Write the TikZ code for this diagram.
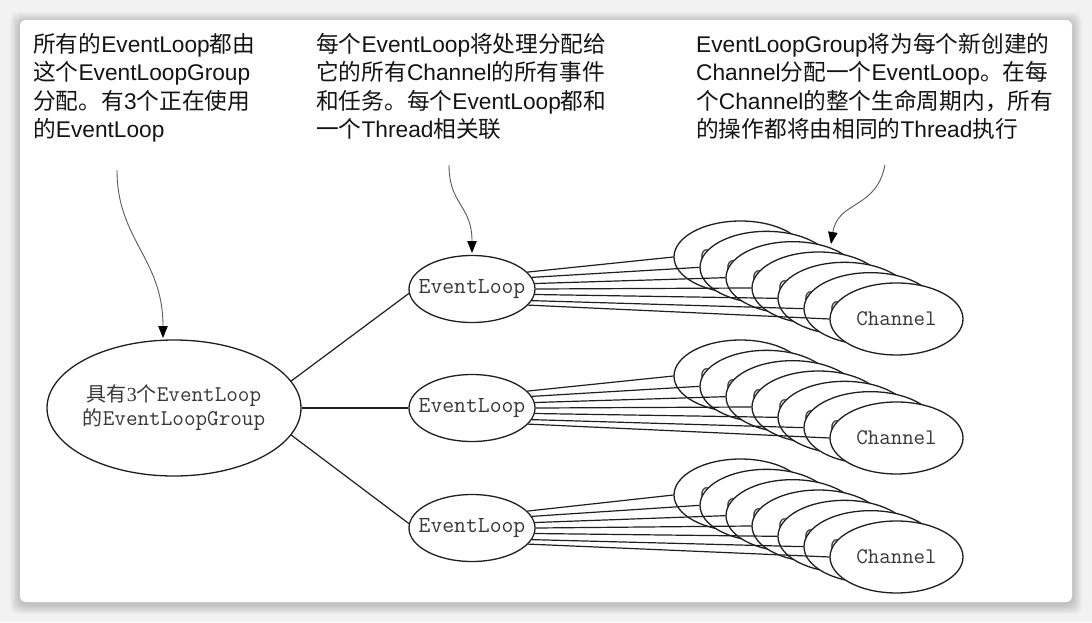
\documentclass[tikz,border=0pt]{standalone}
\usepackage{fontspec}
\setmainfont{Liberation Sans}
\newfontfamily\cjk{Noto Sans CJK SC}
\newfontfamily\serifdigit{Liberation Serif}
\usetikzlibrary{arrows.meta,shapes.geometric}
\begin{document}
\begin{tikzpicture}[x=1pt,y=-1pt,
  note/.style={align=left, inner sep=0pt, anchor=north west, text=black!92,
    font=\fontsize{22.7}{28.4}\selectfont},
  oval/.style={ellipse, draw=black!88, line width=1.3pt, fill=white, inner sep=0pt,
    text=black!78, font=\ttfamily\fontsize{23}{25}\selectfont},
  group/.style={oval, minimum width=254pt, minimum height=136pt,
    font=\fontsize{20}{25}\selectfont},
  loop/.style={oval, minimum width=126pt, minimum height=67pt},
  chan/.style={oval, minimum width=133pt, minimum height=72pt,
    font=\ttfamily\fontsize{22.3}{24}\selectfont},
  link/.style={draw=black!88, line width=1.2pt},
  callout/.style={draw=black!65, line width=0.9pt,
    -{Triangle[length=12pt,width=9.5pt,color=black]}}
]
\useasboundingbox (0,0) rectangle (1092,622);
% background card
\fill[black!5] (0,0) rectangle (1092,622);
\foreach \i in {1,...,10}
  \fill[black, opacity=0.018, rounded corners=8pt] ({20-\i},{20-\i+2}) rectangle ({1072+\i},{602+\i+2});
\fill[white, rounded corners=6pt] (20,20) rectangle (1072,602);

% notes
\node[note] (t1) at (33,33) {{\cjk 所有的}EventLoop{\cjk 都由}\\{\cjk 这个}EventLoopGroup\\{\cjk 分配。有}3{\cjk 个正在使用}\\{\cjk 的}EventLoop};
\node[note] (t2) at (316,33) {{\cjk 每个}EventLoop{\cjk 将处理分配给}\\{\cjk 它的所有}Channel{\cjk 的所有事件}\\{\cjk 和任务。每个}EventLoop{\cjk 都和}\\{\cjk 一个}Thread{\cjk 相关联}};
\node[note] (t3) at (696,33) {EventLoopGroup{\cjk 将为每个新创建的}\\Channel{\cjk 分配一个}EventLoop{\cjk 。在每}\\{\cjk 个}Channel{\cjk 的整个生命周期内，所有}\\{\cjk 的操作都将由相同的}Thread{\cjk 执行}};

% group node
\node[group] (grp) at (174,408) {\makebox[0pt]{\begin{tabular}{@{}c@{}}{\cjk 具有}{\serifdigit 3}{\cjk 个}{\ttfamily\fontsize{22.5}{25}\selectfont EventLoop}\\[-1pt]{\cjk 的}{\ttfamily\fontsize{22.5}{25}\selectfont EventLoopGroup}\end{tabular}}};

% event loops
\node[loop] (el1) at (472,289) {\makebox[0pt]{EventLoop}};
\node[loop] (el2) at (472,408) {\makebox[0pt]{EventLoop}};
\node[loop] (el3) at (472,528) {\makebox[0pt]{EventLoop}};

\draw[link] (grp.13) -- (el1.184);
\draw[link] (grp.east) -- (el2.west);
\draw[link] (grp.-13) -- (el3.176);

% channels
\foreach \g in {1,2,3}{
  \foreach \k in {0,...,6}{
    \node[chan] (c\g-\k) at ({740.5+26*\k},{257+10.33*\k+119*(\g-1)}) {\makebox[0pt]{Channel}};
  }
  \foreach \k in {0,...,6}{
    \pgfmathsetmacro{\ang}{17-5.6*\k}
    \draw[link] (el\g.\ang) -- (c\g-\k.west);
  }
}

% callouts
\coordinate (a1s) at (117,170);
\coordinate (a1e) at (163,338);
\draw[callout] (a1s) .. controls (117,240) and (163,258) .. (a1e);
\coordinate (a2s) at (449,165);
\coordinate (a2e) at (472,253);
\draw[callout] (a2s) .. controls (449,205) and (472,205) .. (a2e);
\coordinate (a3s) at (885,165);
\coordinate (a3e) at (831,244);
\draw[callout] (a3s) .. controls (876,210) and (838,200) .. (a3e);
\end{tikzpicture}
\end{document}
